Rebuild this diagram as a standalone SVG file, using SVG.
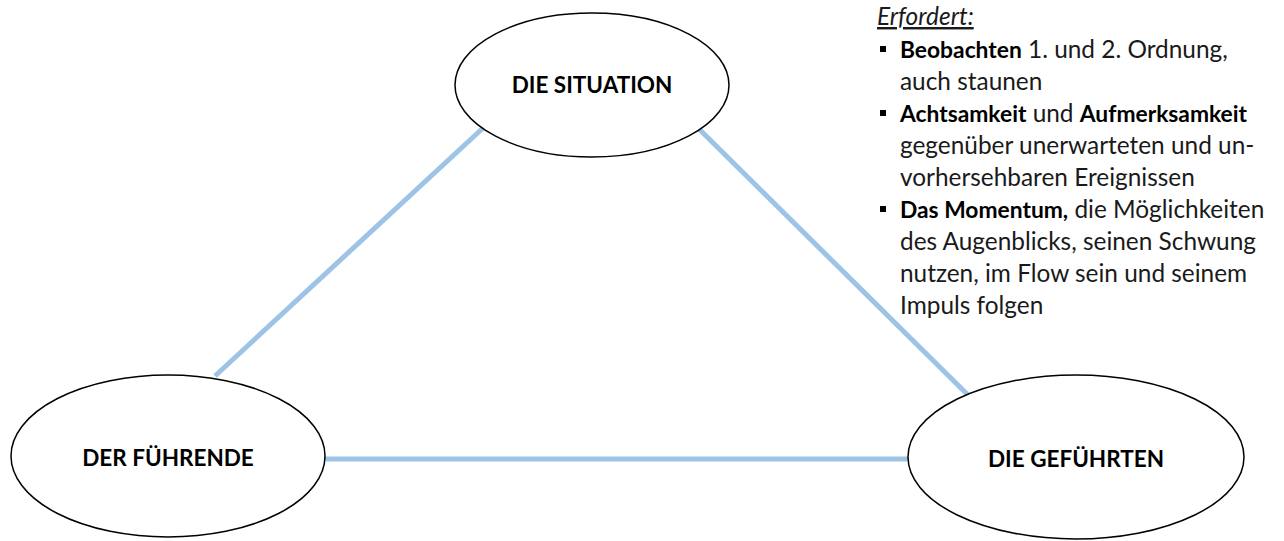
<svg xmlns="http://www.w3.org/2000/svg" width="1284" height="541" viewBox="0 0 1284 541">
<style>
.node ellipse{fill:#fff;stroke:#000;stroke-width:1.5}
.node text{font-family:Lato,"Open Sans","Liberation Sans",sans-serif;font-weight:700;font-size:22.5px;fill:#000;text-anchor:middle}
.conn line{stroke:#9DC3E6;stroke-width:5}
.notes text{font-family:Lato,"Open Sans","Liberation Sans",sans-serif;font-size:24.4px;font-weight:400;fill:#1a1a1a}
.notes .b{font-weight:700;font-size:22.8px;fill:#000}
.notes rect{fill:#000}
</style>
<g id="connectors" class="conn">
<line x1="215" y1="376" x2="483" y2="128"/>
<line x1="696" y1="126" x2="968" y2="395"/>
<line x1="325" y1="459" x2="909" y2="459"/>
</g>
<g id="node-situation" class="node">
<ellipse cx="592" cy="85" rx="137" ry="72"/>
<text x="592" y="93">DIE SITUATION</text>
</g>
<g id="node-fuehrende" class="node">
<ellipse cx="168" cy="456" rx="157" ry="81"/>
<text x="168" y="466">DER FÜHRENDE</text>
</g>
<g id="node-gefuehrten" class="node">
<ellipse cx="1076" cy="457" rx="168" ry="82"/>
<text x="1076" y="467">DIE GEFÜHRTEN</text>
</g>
<g id="notes" class="notes">
<text x="877" y="25" font-style="italic" text-decoration="underline">Erfordert:</text>
<rect x="880" y="46" width="6" height="6"/>
<text x="900" y="58"><tspan class="b">Beobachten</tspan> 1. und 2. Ordnung,</text>
<text x="900" y="90">auch staunen</text>
<rect x="880" y="110" width="6" height="6"/>
<text x="900" y="122"><tspan class="b">Achtsamkeit</tspan> und <tspan class="b">Aufmerksamkeit</tspan></text>
<text x="900" y="154">gegenüber unerwarteten und un-</text>
<text x="900" y="186">vorhersehbaren Ereignissen</text>
<rect x="880" y="206" width="6" height="6"/>
<text x="900" y="218"><tspan class="b">Das Momentum,</tspan> die Möglichkeiten</text>
<text x="900" y="250">des Augenblicks, seinen Schwung</text>
<text x="900" y="282">nutzen, im Flow sein und seinem</text>
<text x="900" y="314">Impuls folgen</text>
</g>
</svg>
